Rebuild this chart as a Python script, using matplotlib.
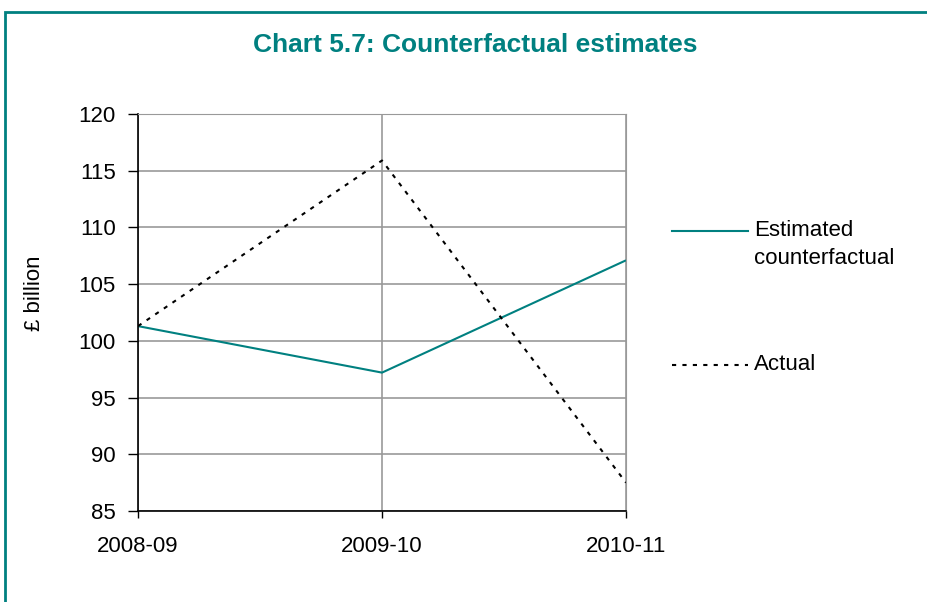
import matplotlib
matplotlib.use('Agg')
import matplotlib.pyplot as plt
from matplotlib.lines import Line2D
from matplotlib.patches import Rectangle

plt.rcParams['font.family'] = ['Liberation Sans', 'DejaVu Sans']

years = ['2008-09', '2009-10', '2010-11']
estimated = [101.3, 97.2, 107.1]
actual = [101.3, 115.9, 87.5]
teal = '#008080'

fig = plt.figure(figsize=(9.27, 6.02), dpi=100)
ax = fig.add_axes([138 / 927, 1 - 511 / 602, 488 / 927, 397 / 602])

x = list(range(len(years)))
ax.plot(x, estimated, color=teal, lw=1.5, solid_capstyle='butt')
ax.plot(x, actual, color='black', lw=1.5, linestyle=(0, (2, 3)))

ax.set_xlim(0, 2)
ax.set_ylim(85, 120)
ax.set_yticks(range(85, 121, 5))
ax.set_xticks(x)
ax.set_xticklabels(years)
ax.grid(True, color='#999999', lw=1.2)
ax.set_axisbelow(True)
for s in ['top', 'right']:
    ax.spines[s].set_color('#999999')
for s in ['left', 'bottom']:
    ax.spines[s].set_color('black')
    ax.spines[s].set_linewidth(1.2)
ax.tick_params(axis='both', labelsize=16, width=1, color='black')
ax.tick_params(axis='x', length=5, pad=13)
ax.tick_params(axis='y', length=7, pad=9)
ax.set_ylabel('£ billion', fontsize=16)
ax.yaxis.set_label_coords(-0.19, 0.549)

fig.text(475 / 927, 1 - 45 / 602, 'Chart 5.7: Counterfactual estimates', ha='center', va='center',
         fontsize=19, fontweight='bold', color=teal)

# legend drawn by hand
fig.add_artist(Line2D([672 / 927, 748 / 927], [1 - 231 / 602] * 2, color=teal, lw=1.5))
fig.text(754 / 927, 1 - 231 / 602, 'Estimated', va='center', fontsize=16)
fig.text(754 / 927, 1 - 258 / 602, 'counterfactual', va='center', fontsize=16)
fig.add_artist(Line2D([672 / 927, 748 / 927], [1 - 365 / 602] * 2, color='black', lw=1.5,
                      linestyle=(0, (2, 3))))
fig.text(754 / 927, 1 - 365 / 602, 'Actual', va='center', fontsize=16)

# teal frame round the chart
fig.add_artist(Rectangle((5 / 927, -0.1), 1.1, 1 - 12 / 602 + 0.1, transform=fig.transFigure,
                         fill=False, edgecolor=teal, lw=2))

fig.savefig('out.png', dpi=100)
